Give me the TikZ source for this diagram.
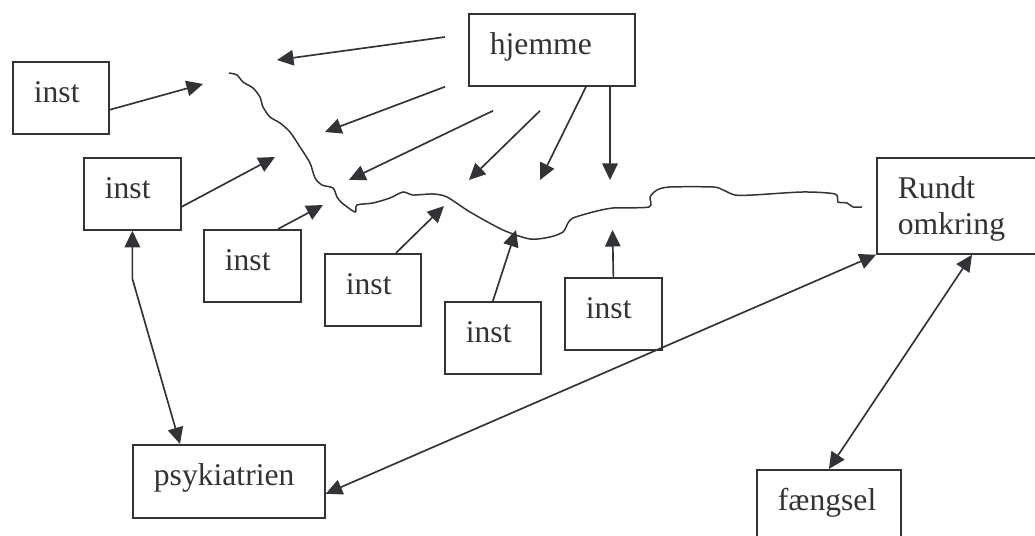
\documentclass[tikz,border=0pt]{standalone}
\usepackage{fontspec}
\setmainfont{Liberation Serif}
\usepackage{xcolor}
\usepackage{tikz}
\usetikzlibrary{arrows.meta}
\definecolor{ink}{RGB}{50,50,55}

\begin{document}
\begin{tikzpicture}
\tikzstyle{box} = [draw=ink,text=ink,line width=1pt,anchor=north west,align=left,inner xsep=0.42cm,inner ysep=0,text height=0.82cm,text depth=0.62cm,font=\fontsize{18}{20}\selectfont];
\tikzstyle{arr} = [draw=ink,line width=0.95pt,-{Triangle[length=0.33cm,width=0.31cm]}];
\tikzstyle{both} = [draw=ink,line width=0.95pt,{Triangle[length=0.33cm,width=0.31cm]}-{Triangle[length=0.33cm,width=0.31cm]}];
\path[use as bounding box,clip] (0,0) rectangle (20.7,-10.72);
% boxes
\node [box,text width=2.48cm] (hjemme) at (9.36,-0.26) {hjemme};
\node [box,text width=1.08cm] (inst1) at (0.24,-1.22) {inst};
\node [box,text width=1.10cm] (inst2) at (1.66,-3.14) {inst};
\node [box,text width=1.10cm] (inst3) at (4.06,-4.58) {inst};
\node [box,text width=1.08cm] (inst4) at (6.48,-5.06) {inst};
\node [box,text width=1.08cm] (inst5) at (8.88,-6.02) {inst};
\node [box,text width=1.10cm] (inst6) at (11.28,-5.54) {inst};
\node [box,text width=2.44cm,text depth=1.1cm] (rundt) at (17.52,-3.14) {Rundt\\omkring};
\node [box,text width=3.0cm,text depth=0.64cm] (psyk) at (2.64,-8.88) {psykiatrien};
\node [box,text width=2.04cm] (faengsel) at (15.12,-9.38) {fængsel};
% the line
\draw [ink,line width=0.85pt] plot[smooth,tension=0.45] coordinates {(4.58,-1.46) (4.74,-1.5) (4.86,-1.64) (5.06,-1.76) (5.2,-1.94) (5.26,-2.14) (5.4,-2.34) (5.6,-2.46) (5.8,-2.64) (6.0,-2.94) (6.2,-3.26) (6.3,-3.56) (6.44,-3.7) (6.66,-3.76) (6.74,-3.94) (6.84,-4.06) (7.1,-4.24) (7.14,-4.1) (7.46,-4.06) (7.8,-3.96) (8.06,-3.84) (8.26,-3.9) (8.66,-3.88) (8.94,-3.94) (9.4,-4.24) (10.06,-4.6) (10.6,-4.78) (11.0,-4.74) (11.26,-4.64) (11.36,-4.46) (11.46,-4.36) (11.86,-4.24) (12.26,-4.16) (12.98,-4.14) (13.0,-3.94) (13.14,-3.8) (13.4,-3.74) (14.26,-3.74) (14.46,-3.8) (14.7,-3.9) (15.06,-3.9) (16.06,-3.84) (16.7,-3.88) (16.76,-4.04) (16.94,-4.06) (17.06,-4.14) (17.24,-4.14)};
% arrow tips
\coordinate (h1) at (5.54,-1.2);
\coordinate (h2) at (6.5,-2.64);
\coordinate (h3) at (6.98,-3.6);
\coordinate (h4) at (9.38,-3.6);
\coordinate (h5) at (10.8,-3.6);
\coordinate (h6) at (12.2,-3.6);
\coordinate (i1) at (4.06,-1.68);
\coordinate (i2) at (5.5,-3.14);
\coordinate (i3) at (6.46,-4.1);
\coordinate (i4) at (8.88,-4.12);
\coordinate (i5) at (10.32,-4.6);
\coordinate (i6) at (12.25,-4.6);
% from hjemme
\draw [arr] ([xshift=-0.46cm,yshift=-0.48cm]hjemme.north west) -- (h1);
\draw [arr] ([xshift=-0.46cm]hjemme.south west) -- (h2);
\draw [arr] ([xshift=0.5cm,yshift=-0.48cm]hjemme.south west) -- (h3);
\draw [arr] ([xshift=1.44cm,yshift=-0.48cm]hjemme.south west) -- (h4);
\draw [arr] ([xshift=2.36cm]hjemme.south west) -- (h5);
\draw [arr] ([xshift=2.84cm]hjemme.south west) -- (h6);
% from inst
\draw [arr] ([yshift=0.5cm]inst1.south east) -- (i1);
\draw [arr] ([yshift=0.48cm]inst2.south east) -- (i2);
\draw [arr] ([xshift=1.5cm]inst3.north west) -- (i3);
\draw [arr] ([xshift=1.44cm]inst4.north west) -- (i4);
\draw [arr] (inst5.north) -- (i5);
\draw [arr] (inst6.north) -- (i6);
% both ways
\draw [both] (inst2.south) -- ++(0,-0.96) -- ([xshift=0.96cm]psyk.north west);
\draw [both] ([yshift=0.5cm]psyk.south east) -- (rundt.south west);
\draw [both] ([xshift=1.92cm]rundt.south west) -- (faengsel.north);
\end{tikzpicture}
\end{document}
